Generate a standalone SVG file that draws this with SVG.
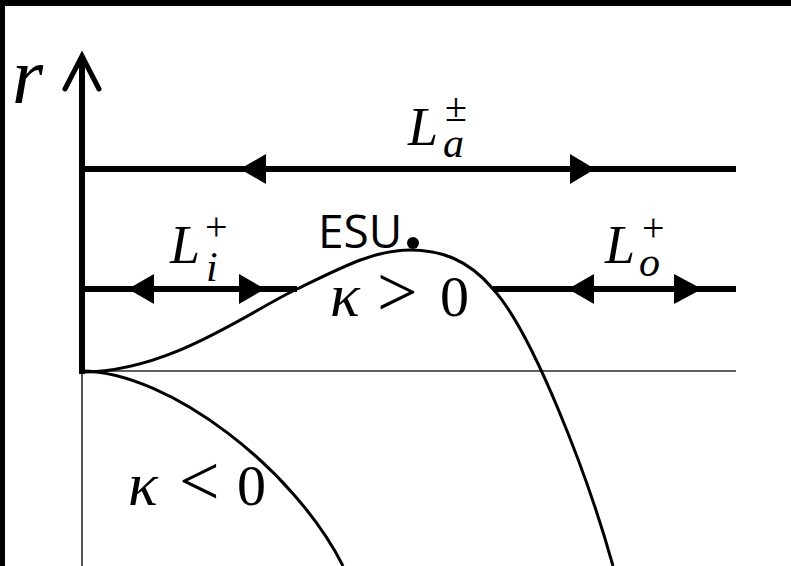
<svg xmlns="http://www.w3.org/2000/svg" width="791" height="566" viewBox="0 0 791 566">
<style>
.m{font-family:"Liberation Serif","DejaVu Serif",serif;fill:#000}
.it{font-style:italic}
.thick{stroke:#000;stroke-width:6;fill:none}
.thin{stroke:#2a2a2a;stroke-width:1.6;fill:none}
.curve{stroke:#000;stroke-width:3;fill:none}
.ah{fill:#000}
</style>
<rect x="0" y="0" width="791" height="566" fill="#fff"/>
<rect x="0" y="0" width="791" height="6" fill="#000"/>
<rect x="0" y="0" width="5" height="566" fill="#000"/>
<g id="connectors">
<line class="thin" x1="82" y1="372" x2="82" y2="566"/>
<line class="thin" x1="82" y1="371" x2="736" y2="371"/>
<line class="thick" x1="82" y1="374" x2="82" y2="58"/>
<polyline points="65,89 82,56 99,89" fill="none" stroke="#000" stroke-width="5" stroke-linecap="round" stroke-linejoin="miter"/>
<line class="thick" x1="82" y1="169" x2="736" y2="169"/>
<polygon class="ah" points="240,169 266,154 266,184"/>
<polygon class="ah" points="595,169 570,154 570,184"/>
<line class="thick" x1="82" y1="289" x2="297" y2="289"/>
<polygon class="ah" points="128,289 154,274 154,304"/>
<polygon class="ah" points="265,289 239,274 239,304"/>
<line class="thick" x1="493" y1="289" x2="736" y2="289"/>
<polygon class="ah" points="568,289 594,274 594,304"/>
<polygon class="ah" points="702,289 674,274 674,304"/>
<path class="curve" d="M82,372 C170,372 250,311 297,289 C337,270 372,250 410,250 C440,250 468,259 493,289 C533,333 588,476 613,566"/>
<path class="curve" d="M82,371 C170,372 295,470 343,566"/>
<circle cx="413" cy="243" r="6" fill="#000"/>
</g>
<g id="label-r"><text class="m it" x="12" y="103" font-size="80">r</text></g>
<g id="label-La">
<text class="m it" x="408" y="145" font-size="54">L</text>
<text class="m" x="445" y="121" font-size="40">±</text>
<text class="m it" x="443" y="157" font-size="42">a</text>
</g>
<g id="label-Li">
<text class="m it" x="170" y="263" font-size="54">L</text>
<text class="m" x="205" y="240" font-size="40">+</text>
<text class="m it" x="206" y="281" font-size="42">i</text>
</g>
<g id="label-Lo">
<text class="m it" x="605" y="263" font-size="54">L</text>
<text class="m" x="642" y="241" font-size="40">+</text>
<text class="m it" x="639" y="276" font-size="42">o</text>
</g>
<g id="label-ESU"><text x="318" y="248" font-family="'Open Sans','Liberation Sans',sans-serif" font-size="46" fill="#000">ESU</text></g>
<g id="label-kpos">
<text class="m it" x="330" y="316" font-size="62">κ</text>
<text class="m" x="377" y="316" font-size="72">&gt;</text>
<text class="m" x="440" y="316" font-size="58">0</text>
</g>
<g id="label-kneg">
<text class="m it" x="128" y="505" font-size="62">κ</text>
<text class="m" x="179" y="505" font-size="72">&lt;</text>
<text class="m" x="237" y="505" font-size="58">0</text>
</g>
</svg>
